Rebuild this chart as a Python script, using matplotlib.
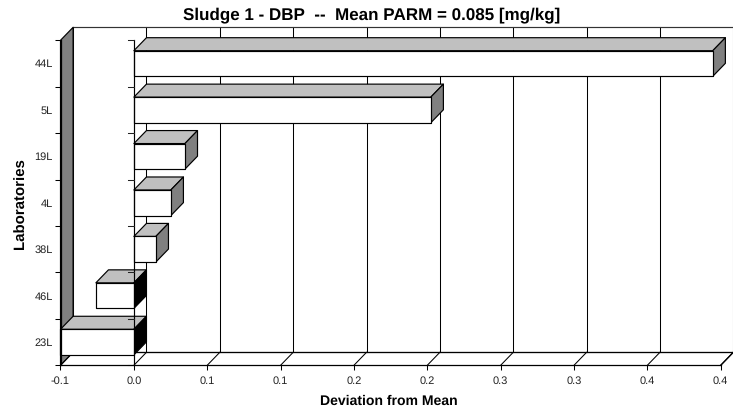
import matplotlib
matplotlib.use("Agg")
import matplotlib.pyplot as plt
from matplotlib.ticker import FixedLocator, NullFormatter

plt.rcParams['font.family'] = ['Liberation Sans', 'DejaVu Sans']
plt.rcParams['text.hinting'] = 'no_hinting'
plt.rcParams['text.hinting_factor'] = 1

labs = ['44L', '5L', '19L', '4L', '38L', '46L', '23L']
deviation = [0.3946, 0.2024, 0.0348, 0.0252, 0.0150, -0.0259, -0.0500]
xticks = [-0.05, 0.0, 0.05, 0.10, 0.15, 0.20, 0.25, 0.30, 0.35, 0.40]
xticklabels = ['-0.1', '0.0', '0.1', '0.1', '0.2', '0.2', '0.3', '0.3', '0.4', '0.4']

W, H = 733, 412
L, R, T, B = 60.5, 720.7, 40.3, 365.3
fig = plt.figure(figsize=(W / 100, H / 100), dpi=100)
ax = fig.add_axes([L / W, 1 - B / H, (R - L) / W, (B - T) / H])
ax.set_xlim(-0.05, 0.40)
ax.set_ylim(0, 7)
ax.patch.set_visible(False)
for s in ['top', 'right']:
    ax.spines[s].set_visible(False)
for s in ['left', 'bottom']:
    ax.spines[s].set_linewidth(0.9)
    ax.spines[s].set_zorder(20)

DX = 12.6 * 0.45 / (R - L)
DY = 13 * 7 / (B - T)
LW = 0.85
x0, x1 = ax.get_xlim()
kw = dict(clip_on=False, edgecolor='black', linewidth=LW, joinstyle='round')

# back wall, floor, side wall
ax.fill([x0 + DX, x1 + DX, x1 + DX, x0 + DX], [DY, DY, 7 + DY, 7 + DY],
        facecolor='white', zorder=1, clip_on=False, edgecolor='none')
ax.plot([x0 + DX, x1 + DX], [7 + DY, 7 + DY], color='#333333', lw=LW, clip_on=False, zorder=2)
ax.plot([x0 + DX, x1 + DX], [DY, DY], color='black', lw=LW + 0.1, clip_on=False, zorder=2)
ax.fill([x0, x0 + DX, x0 + DX, x0], [0, DY, 7 + DY, 7],
        facecolor='#808080', zorder=2, **kw)
for t in xticks:
    ax.plot([t + DX, t + DX], [DY, 7 + DY], color='black', lw=0.75, clip_on=False, zorder=1.5)
    ax.plot([t, t + DX], [0, DY], color='black', lw=0.75, clip_on=False, zorder=2)
ax.plot([x1, x1 + DX], [0, DY], color='black', lw=LW + 0.1, clip_on=False, zorder=2)

# bars, top category first
gap = 0.224
for i, (name, v) in enumerate(zip(labs, deviation)):
    lo = 6 - i + gap
    hi = 7 - i - gap
    a, b = min(v, 0), max(v, 0)
    z = 5 + i
    ax.fill([a, b, b + DX, a + DX], [hi, hi, hi + DY, hi + DY],
            facecolor='#c0c0c0', zorder=z, **kw)
    ax.fill([b, b + DX, b + DX, b], [lo, lo + DY, hi + DY, hi],
            facecolor='#808080' if v > 0 else 'black', zorder=z, **kw)
    ax.fill([a, b, b, a], [lo, lo, hi, hi], facecolor='white', zorder=z + 0.5, **kw)

# category axis line at zero, with its ticks
ax.plot([0, 0], [0, 7], color='black', lw=LW, zorder=15, clip_on=False)
for k in range(0, 8):
    ax.plot([-5.5 * 0.45 / (R - L), 0], [k, k], color='#222222', lw=0.75, zorder=15, clip_on=False)

ax.set_xticks(xticks, xticklabels)
ax.tick_params(axis='x', length=3.4, width=0.75, pad=4.2, labelsize=7.85, labelcolor='#222222')
ax.yaxis.set_major_locator(FixedLocator([k + 0.5 for k in range(7)]))
ax.set_yticklabels(labs[::-1])
ax.tick_params(axis='y', which='major', length=0, pad=5.6, labelsize=7.85, labelcolor='#222222')
ax.yaxis.set_minor_locator(FixedLocator(range(8)))
ax.yaxis.set_minor_formatter(NullFormatter())
ax.tick_params(axis='y', which='minor', length=4.0, width=0.75)

ax.set_xlabel('Deviation from Mean', fontsize=10.4, fontweight='bold')
ax.xaxis.set_label_coords((388.5 - L) / (R - L), -(401 - B) / (B - T))
ax.xaxis.label.set_va('center')
ax.set_ylabel('Laboratories', fontsize=10.5, fontweight='bold')
ax.yaxis.set_label_coords((20.5 - L) / (R - L), (B - 203.5) / (B - T))
ax.yaxis.label.set_va('center')
ax.set_title('Sludge 1 - DBP  --  Mean PARM = 0.085 [mg/kg]', fontsize=11.9, fontweight='bold',
             x=(372 - L) / (R - L), y=(B - 15.5) / (B - T), va='center', pad=0)

fig.savefig('out.png', dpi=100)
